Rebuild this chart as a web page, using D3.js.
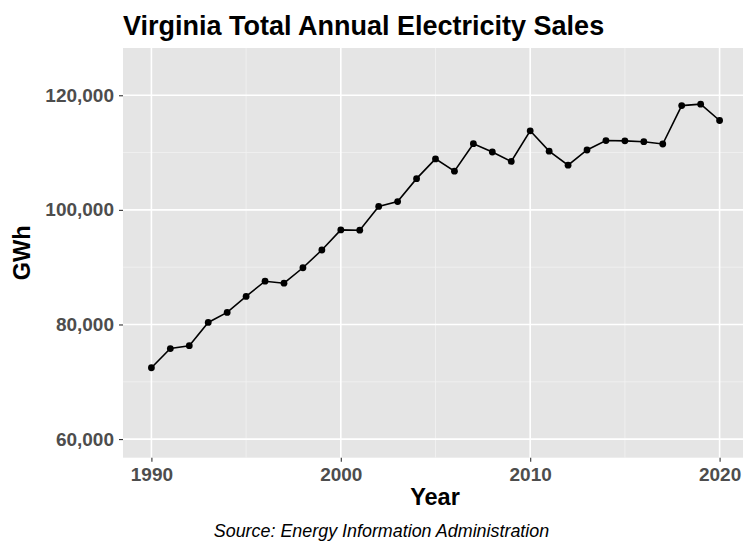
<!DOCTYPE html>
<html>
<head>
<meta charset="utf-8">
<script src="https://cdn.jsdelivr.net/npm/d3@7"></script>
<style>
body { margin: 0; background: #fff; }
text { font-family: "Liberation Sans", Arial, sans-serif; }
</style>
</head>
<body>
<svg width="743" height="541"></svg>
<script>
var years = [1990, 1991, 1992, 1993, 1994, 1995, 1996, 1997, 1998, 1999,
  2000, 2001, 2002, 2003, 2004, 2005, 2006, 2007, 2008, 2009,
  2010, 2011, 2012, 2013, 2014, 2015, 2016, 2017, 2018, 2019, 2020];
var sales = [72450, 75800, 76300, 80350, 82100, 84900, 87550, 87200, 89900, 93000,
  96500, 96450, 100600, 101450, 105450, 108900, 106750, 111550, 110100, 108450,
  113800, 110250, 107800, 110450, 112100, 112050, 111900, 111500, 118200, 118450, 115600];
var xTicks = [1990, 2000, 2010, 2020];
var yTicks = [60000, 80000, 100000, 120000];

var svg = d3.select("svg"),
  width = +svg.attr("width"),
  height = +svg.attr("height");

var panel = {left: 123, top: 48, right: 748, bottom: 457.7};

// ggplot style 5% expansion
var x = d3.scaleLinear().domain([1988.5, 2021.5]).range([panel.left, panel.right]);
var y = d3.scaleLinear().domain([60000 - 3250, 125000 + 3250]).range([panel.bottom, panel.top]);

svg.append("rect")
  .attr("x", panel.left).attr("y", panel.top)
  .attr("width", panel.right - panel.left).attr("height", panel.bottom - panel.top)
  .attr("fill", "#e5e5e5");

var g = svg.append("g");

// minor grid
g.selectAll(".minx").data([1995, 2005, 2015]).enter().append("line")
  .attr("x1", d => x(d)).attr("x2", d => x(d))
  .attr("y1", panel.top).attr("y2", panel.bottom)
  .attr("stroke", "#f2f2f2").attr("stroke-width", 0.8);
g.selectAll(".miny").data([70000, 90000, 110000]).enter().append("line")
  .attr("y1", d => y(d)).attr("y2", d => y(d))
  .attr("x1", panel.left).attr("x2", panel.right)
  .attr("stroke", "#f2f2f2").attr("stroke-width", 0.8);

// major grid
g.selectAll(".majx").data(xTicks).enter().append("line")
  .attr("x1", d => x(d)).attr("x2", d => x(d))
  .attr("y1", panel.top).attr("y2", panel.bottom)
  .attr("stroke", "#fff").attr("stroke-width", 1.6);
g.selectAll(".majy").data(yTicks).enter().append("line")
  .attr("y1", d => y(d)).attr("y2", d => y(d))
  .attr("x1", panel.left).attr("x2", panel.right)
  .attr("stroke", "#fff").attr("stroke-width", 1.6);

// axes
var fmt = d3.format(",");
var yAxis = svg.append("g").attr("transform", "translate(" + panel.left + ",0)")
  .call(d3.axisLeft(y).tickValues(yTicks).tickFormat(fmt).tickSize(4).tickPadding(5));
var xAxis = svg.append("g").attr("transform", "translate(0," + panel.bottom + ")")
  .call(d3.axisBottom(x).tickValues(xTicks).tickFormat(d3.format("d")).tickSize(4).tickPadding(3));
[xAxis, yAxis].forEach(function(a) {
  a.select(".domain").remove();
  a.selectAll(".tick line").attr("stroke", "#333").attr("stroke-width", 1.1);
  a.selectAll(".tick text")
    .attr("fill", "#4d4d4d")
    .style("font-size", "19px").style("font-weight", "bold")
    .style("font-family", "Liberation Sans, Arial, sans-serif");
});
xAxis.selectAll(".tick text").attr("y", 23).attr("dy", 0);

// data
var data = years.map(function(d, i) { return {year: d, value: sales[i]}; });
var line = d3.line().x(d => x(d.year)).y(d => y(d.value));
svg.append("path").datum(data)
  .attr("d", line).attr("fill", "none")
  .attr("stroke", "#000").attr("stroke-width", 1.6);
svg.selectAll(".pt").data(data).enter().append("circle")
  .attr("cx", d => x(d.year)).attr("cy", d => y(d.value))
  .attr("r", 3.4).attr("fill", "#000");

// titles
svg.append("text").attr("x", panel.left).attr("y", 35)
  .style("font-size", "27px").style("font-weight", "bold")
  .text("Virginia Total Annual Electricity Sales");
svg.append("text").attr("x", 435).attr("y", 505)
  .attr("text-anchor", "middle")
  .style("font-size", "23.5px").style("font-weight", "bold")
  .text("Year");
svg.append("text").attr("transform", "translate(30," + ((panel.top + panel.bottom) / 2) + ") rotate(-90)")
  .attr("text-anchor", "middle")
  .style("font-size", "23.5px").style("font-weight", "bold")
  .text("GWh");
svg.append("text").attr("x", 381.5).attr("y", 537)
  .attr("text-anchor", "middle")
  .style("font-size", "17.9px").style("font-style", "italic")
  .text("Source: Energy Information Administration");
</script>
</body>
</html>
